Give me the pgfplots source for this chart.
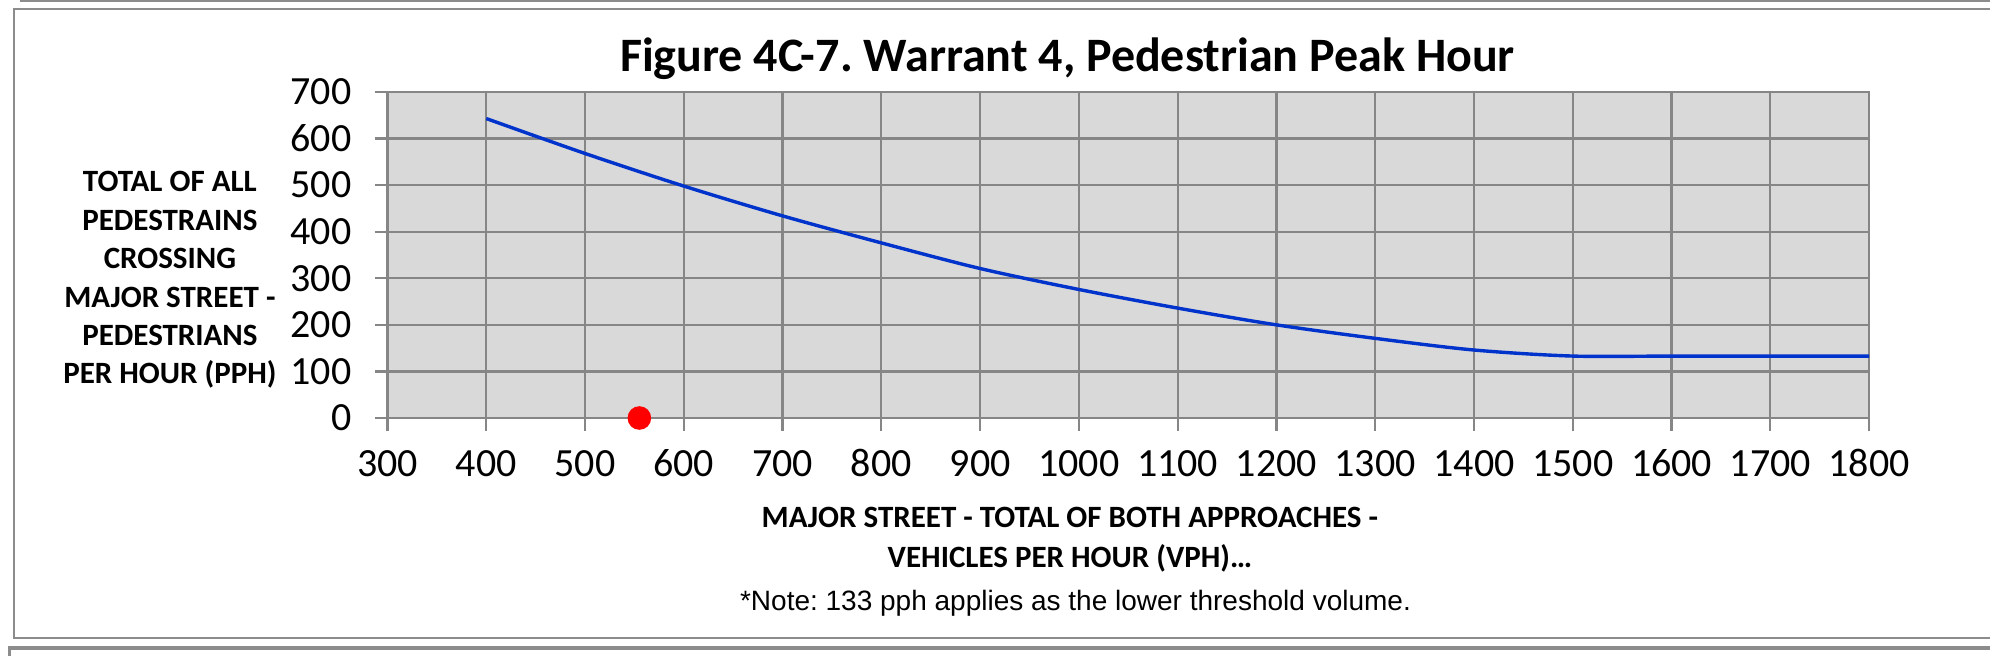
\documentclass[border=0pt]{standalone}
\usepackage{fontspec}
\setmainfont{Carlito}
\newfontfamily\arialfont{Liberation Sans}
\usepackage{pgfplots}
\pgfplotsset{compat=1.18}
\frenchspacing

\definecolor{plotbg}{RGB}{217,217,217}
\definecolor{gridgray}{RGB}{134,134,134}
\definecolor{framegray}{RGB}{140,140,140}
\definecolor{lineblue}{RGB}{0,51,204}

\begin{document}
\begin{tikzpicture}
\useasboundingbox (-96.875pt,-59.25pt) rectangle (400.625pt,104.5pt);
% frame round the chart
\draw[framegray, line width=0.3pt] (-91.9pt,104.25pt) -- (403pt,104.25pt);
\draw[framegray, line width=0.6pt] (403pt,102.25pt) -- (-93.4pt,102.25pt) -- (-93.4pt,-55pt) -- (403pt,-55pt);
\draw[framegray, line width=0.8pt] (-94.4pt,-61pt) -- (-94.4pt,-57.5pt) -- (403pt,-57.5pt);

\begin{axis}[
  at={(0pt,0pt)}, anchor=south west,
  scale only axis,
  width=370.4pt, height=81.5pt,
  xmin=300, xmax=1800, ymin=0, ymax=700,
  xtick={300,400,...,1800},
  ytick={0,100,...,700},
  grid=major,
  major grid style={gridgray, line width=0.55pt},
  axis line style={gridgray, line width=0.6pt},
  tick style={gridgray, line width=0.55pt},
  tick align=outside,
  major tick length=3.2pt,
  xtick pos=left, ytick pos=left,
  axis background/.style={fill=plotbg},
  ticklabel style={font=\fontsize{10}{12}\selectfont},
  /pgf/number format/assume math mode=true,
  /pgf/number format/set thousands separator={},
  xticklabel style={anchor=north, inner sep=0pt, yshift=-4.3pt,
    text height=7pt, text depth=0pt},
  yticklabel style={anchor=east, inner sep=0pt, xshift=-5.6pt},
  clip=false,
]
% warrant curve
\addplot[lineblue, line width=0.85pt, smooth] coordinates {
  (400,643) (500,568) (600,498) (700,434) (800,376) (900,321) (1000,276)
  (1100,236) (1200,200) (1300,171) (1400,146) (1500,133) (1600,133)
  (1700,133) (1800,133)
};
% observed point
\addplot[only marks, mark=*, mark size=2.75pt, color=red, fill=red] coordinates {
  (555,0)
};
\end{axis}

\node[anchor=base, font=\bfseries\fontsize{12}{14}\selectfont] at (170pt,86.75pt)
  {Figure 4C-7. Warrant 4, Pedestrian Peak Hour};
\node[align=center, font=\bfseries\fontsize{7.75}{9.6}\selectfont] at (-54.4pt,34.5pt)
  {TOTAL OF ALL\\PEDESTRAINS\\CROSSING\\MAJOR STREET -\\PEDESTRIANS\\PER HOUR (PPH)};
\node[anchor=base, font=\bfseries\fontsize{7.75}{9.6}\selectfont] at (170.6pt,-27.25pt)
  {MAJOR STREET - TOTAL OF BOTH APPROACHES -};
\node[anchor=base, font=\bfseries\fontsize{7.75}{9.6}\selectfont] at (170.6pt,-37.25pt)
  {VEHICLES PER HOUR (VPH)…};
\node[anchor=base, font=\arialfont\fontsize{7}{8.4}\selectfont] at (172pt,-48pt)
  {*Note: 133 pph applies as the lower threshold volume.};
\end{tikzpicture}
\end{document}
